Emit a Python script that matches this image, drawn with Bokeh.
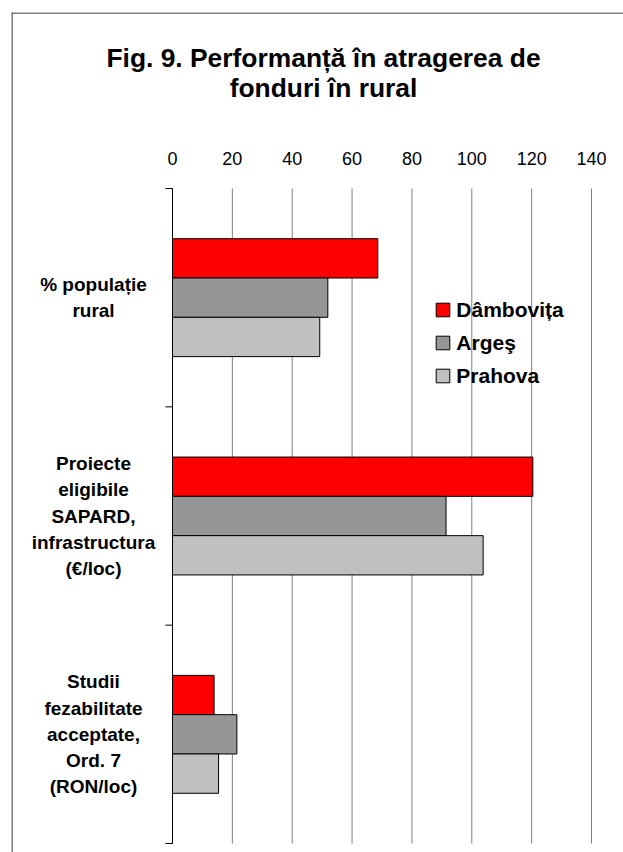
from bokeh.plotting import figure
from bokeh.models import Range1d, ColumnDataSource, Span, Label, Legend, LegendItem
from bokeh.transform import dodge
from bokeh.embed import file_html
from bokeh.resources import INLINE

# ---- data ----
title_lines = ["Fig. 9. Performanță în atragerea de", "fonduri în rural"]
categories = [
    "% populație\nrural",
    "Proiecte\neligibile\nSAPARD,\ninfrastructura\n(€/loc)",
    "Studii\nfezabilitate\nacceptate,\nOrd. 7\n(RON/loc)",
]
series_names = ["Dâmbovița", "Argeş", "Prahova"]
dambovita = [68.6, 120.4, 13.9]
arges = [51.9, 91.4, 21.5]
prahova = [49.2, 103.8, 15.4]
x_ticks = [0, 20, 40, 60, 80, 100, 120, 140]
colors = ["#FF0000", "#969696", "#C0C0C0"]

FONT = "Liberation Sans"

# ---- layout (pixels) ----
W, H = 623, 852
FL, FT = 11, 12            # chart border (frame) left / top
X_LO, X_HI = 172, 591      # pixel of value 0 and of the last tick
Y_LO, Y_HI = 188, 843      # pixel of the top and bottom of the category area
n = len(categories)
sx = (X_HI - X_LO) / x_ticks[-1]
sy = (Y_HI - Y_LO) / n
x_start, x_end = (FL - X_LO) / sx, (W - X_LO) / sx
y_top, y_bottom = (FT - Y_LO) / sy, (H - Y_LO) / sy

p = figure(width=W, height=H,
           x_range=Range1d(x_start, x_end),
           y_range=Range1d(y_bottom, y_top),
           output_backend="svg", toolbar_location=None,
           x_axis_location=None, y_axis_location=None,
           min_border_left=FL, min_border_top=FT,
           min_border_right=0, min_border_bottom=0)
p.grid.visible = False
p.outline_line_color = None
p.background_fill_color = "white"
p.border_fill_color = "white"

src = ColumnDataSource(dict(
    cat_y=[i + 0.5 for i in range(n)],
    cat=categories,
    dambovita=dambovita, arges=arges, prahova=prahova,
))

# gridlines
p.segment(x0=x_ticks, x1=x_ticks, y0=0, y1=n, line_color="#808080", line_width=1)

# bars
bar_h = 0.18
renderers = []
for field, color, off in zip(["dambovita", "arges", "prahova"], colors, [-bar_h, 0, bar_h]):
    r = p.hbar(y=dodge("cat_y", off), left=0, right=field, height=bar_h, source=src,
               fill_color=color, line_color="black", line_width=1)
    renderers.append(r)

# category axis line and boundary ticks
tick_len = 7 / sx
p.segment(x0=0, x1=0, y0=0, y1=n, line_color="black", line_width=1)
p.segment(x0=-tick_len, x1=0, y0=list(range(n + 1)), y1=list(range(n + 1)),
          line_color="black", line_width=1)

# value tick labels (top)
p.text(x=x_ticks, y=0, text=[str(t) for t in x_ticks], y_offset=-30,
       text_align="center", text_baseline="middle",
       text_font={"value": FONT}, text_font_size="18px", text_color="black")

# category labels
p.text(x=0, y="cat_y", text="cat", source=src, x_offset=-79,
       text_align="center", text_baseline="middle",
       text_font={"value": FONT}, text_font_size="19px", text_font_style="bold",
       text_line_height=1.25, text_color="black")

# title
p.add_layout(Label(x=323 - FL, y=H - 72.5, x_units="screen", y_units="screen",
                   text="\n".join(title_lines), text_align="center", text_baseline="middle",
                   text_font=FONT, text_font_size="26.4px", text_font_style="bold",
                   text_line_height=1.03, text_color="black"))

# chart border (left, top)
p.add_layout(Span(location=x_start + 0.5 / sx, dimension="height", line_color="black", line_width=1))
p.add_layout(Span(location=y_top + 0.5 / sy, dimension="width", line_color="black", line_width=1))

legend = Legend(items=[LegendItem(label=nm, renderers=[r]) for nm, r in zip(series_names, renderers)],
                location=(423.3, 464.2),
                glyph_width=17, glyph_height=17, label_standoff=5,
                label_text_font=FONT, label_text_font_size="21px", label_text_font_style="bold",
                label_text_color="black",
                label_height=17, spacing=9, padding=0, margin=0,
                border_line_color=None, background_fill_alpha=0)
p.add_layout(legend)

open("out.html", "w").write(file_html(p, INLINE))
